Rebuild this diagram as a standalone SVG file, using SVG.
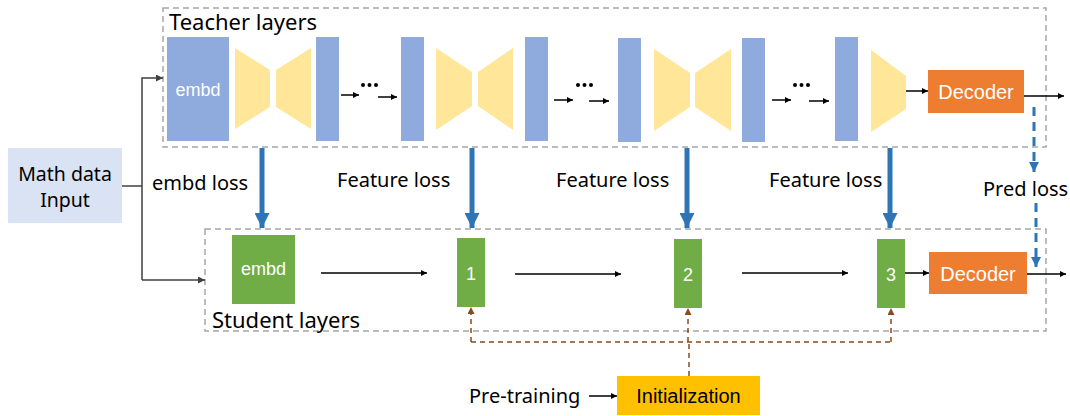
<svg xmlns="http://www.w3.org/2000/svg" width="1070" height="416" viewBox="0 0 1070 416">
<defs>
<style>
.frame{fill:none;stroke:#a6a6a6;stroke-width:1.5;stroke-dasharray:6 4}
.bar{fill:#8faadc}
.hg{fill:#ffe699}
.dec{fill:#ed7d31}
.grn{fill:#70ad47}
.lbl{font-family:"Noto Sans","Open Sans",sans-serif;fill:#000}
.wt{font-family:"Liberation Sans",Arial,sans-serif;fill:#fff;text-anchor:middle}
.bk{font-family:"Liberation Sans",Arial,sans-serif;fill:#000;text-anchor:middle}
.ar{fill:none;stroke:#000;stroke-width:1.5}
.gl{fill:none;stroke:#404040;stroke-width:1.5}
.loss{fill:none;stroke:#2e75b6;stroke-width:5}
.pl{fill:none;stroke:#2e75b6;stroke-width:3;stroke-dasharray:9 6}
.br{fill:none;stroke:#8b4a1c;stroke-width:1.5;stroke-dasharray:5 4}
</style>
<marker id="ah" viewBox="0 0 10 10" refX="10" refY="5" markerWidth="6" markerHeight="6" orient="auto" markerUnits="userSpaceOnUse"><path d="M0,0 L10,5 L0,10 z" fill="#000"/></marker>
<marker id="ahg" viewBox="0 0 10 10" refX="10" refY="5" markerWidth="7" markerHeight="7" orient="auto" markerUnits="userSpaceOnUse"><path d="M0,0 L10,5 L0,10 z" fill="#404040"/></marker>
<marker id="ahb" viewBox="0 0 10 10" refX="10" refY="5" markerWidth="7" markerHeight="7" orient="auto" markerUnits="userSpaceOnUse"><path d="M0,0 L10,5 L0,10 z" fill="#8b4a1c"/></marker>
<marker id="ahl" viewBox="0 0 10 10" refX="10" refY="5" markerWidth="15" markerHeight="15" orient="auto" markerUnits="userSpaceOnUse"><path d="M0,0 L10,5 L0,10 z" fill="#2e75b6"/></marker>
<marker id="ahp" viewBox="0 0 10 10" refX="10" refY="5" markerWidth="10" markerHeight="10" orient="auto" markerUnits="userSpaceOnUse"><path d="M0,0 L10,5 L0,10 z" fill="#2e75b6"/></marker>
</defs>
<rect width="1070" height="416" fill="#fff"/>

<g id="teacher-frame">
<rect class="frame" x="163" y="8" width="883" height="139"/>
<text class="lbl" x="169" y="30" font-size="22">Teacher layers</text>
</g>
<g id="student-frame">
<rect class="frame" x="205" y="229" width="841" height="102"/>
<text class="lbl" x="212" y="328" font-size="22">Student layers</text>
</g>

<g id="math-input">
<rect x="8" y="148" width="114" height="75" fill="#dae3f3"/>
<text class="lbl" x="65" y="181" font-size="19.5" text-anchor="middle">Math data</text>
<text class="lbl" x="65" y="207" font-size="19.5" text-anchor="middle">Input</text>
</g>

<g id="teacher-embd">
<rect class="bar" x="167" y="37" width="62" height="104"/>
<text class="wt" x="198" y="96" font-size="18">embd</text>
</g>
<g id="teacher-block1">
<polygon class="hg" points="235,48 270,70 270,107 235,129"/>
<polygon class="hg" points="276,70 311,48 311,129 276,107"/>
<rect class="bar" x="316" y="37" width="23" height="104"/>
</g>
<g id="teacher-block2">
<rect class="bar" x="401" y="37" width="23" height="104"/>
<polygon class="hg" points="436,48 472,72 472,106 436,130"/>
<polygon class="hg" points="478,72 513,48 513,130 478,106"/>
<rect class="bar" x="525" y="37" width="23" height="104"/>
</g>
<g id="teacher-block3">
<rect class="bar" x="618" y="38" width="23" height="104"/>
<polygon class="hg" points="654,49 690,73 690,107 654,131"/>
<polygon class="hg" points="695,73 731,49 731,131 695,107"/>
<rect class="bar" x="742" y="38" width="23" height="104"/>
</g>
<g id="teacher-block4">
<rect class="bar" x="835" y="37" width="23" height="104"/>
<polygon class="hg" points="871,50 906,76 906,109 871,132"/>
</g>
<g id="teacher-decoder">
<rect class="dec" x="928" y="70" width="96" height="43"/>
<text class="wt" x="976" y="99" font-size="20">Decoder</text>
</g>

<g id="dots" fill="#000">
<circle cx="363" cy="85" r="2"/><circle cx="369.5" cy="85" r="2"/><circle cx="376" cy="85" r="2"/>
<circle cx="578" cy="85" r="2"/><circle cx="584.5" cy="85" r="2"/><circle cx="591" cy="85" r="2"/>
<circle cx="795" cy="85" r="2"/><circle cx="801.5" cy="85" r="2"/><circle cx="808" cy="85" r="2"/>
</g>

<g id="student-embd">
<rect class="grn" x="232" y="235" width="63" height="69"/>
<text class="wt" x="263.5" y="275" font-size="18">embd</text>
</g>
<g id="student-1">
<rect class="grn" x="457" y="238" width="28" height="69"/>
<text class="wt" x="471" y="280" font-size="18">1</text>
</g>
<g id="student-2">
<rect class="grn" x="674" y="239" width="28" height="69"/>
<text class="wt" x="688" y="281" font-size="18">2</text>
</g>
<g id="student-3">
<rect class="grn" x="877" y="239" width="28" height="69"/>
<text class="wt" x="891" y="281" font-size="18">3</text>
</g>
<g id="student-decoder">
<rect class="dec" x="929" y="252" width="98" height="42"/>
<text class="wt" x="978" y="281" font-size="20">Decoder</text>
</g>

<g id="initialization">
<rect x="617" y="376" width="143" height="39" fill="#ffc000"/>
<text class="bk" x="688.5" y="403" font-size="20">Initialization</text>
</g>

<g id="labels">
<text class="lbl" x="152" y="190" font-size="20">embd loss</text>
<text class="lbl" x="337" y="187" font-size="20">Feature loss</text>
<text class="lbl" x="556" y="187" font-size="20">Feature loss</text>
<text class="lbl" x="769" y="187" font-size="20">Feature loss</text>
<text class="lbl" x="983" y="196" font-size="20">Pred loss</text>
<text class="lbl" x="469" y="403" font-size="20">Pre-training</text>
</g>

<g id="connectors">
<polyline class="gl" points="122,186 142,186"/>
<polyline class="gl" points="142,280 142,78 163,78" marker-end="url(#ahg)"/>
<polyline class="gl" points="142,280 205,280" marker-end="url(#ahg)"/>

<line class="ar" x1="341" y1="95" x2="359" y2="95" marker-end="url(#ah)"/>
<line class="ar" x1="378" y1="97" x2="397" y2="97" marker-end="url(#ah)"/>
<line class="ar" x1="554" y1="100" x2="573" y2="100" marker-end="url(#ah)"/>
<line class="ar" x1="589" y1="101" x2="609" y2="101" marker-end="url(#ah)"/>
<line class="ar" x1="772" y1="100" x2="791" y2="100" marker-end="url(#ah)"/>
<line class="ar" x1="809" y1="101" x2="829" y2="101" marker-end="url(#ah)"/>
<line class="ar" x1="906" y1="91" x2="928" y2="91" marker-end="url(#ah)"/>
<line class="ar" x1="1024" y1="96" x2="1064" y2="96" marker-end="url(#ah)"/>

<line class="ar" x1="321" y1="273" x2="427" y2="273" marker-end="url(#ah)"/>
<line class="ar" x1="515" y1="274" x2="621" y2="274" marker-end="url(#ah)"/>
<line class="ar" x1="742" y1="273" x2="848" y2="273" marker-end="url(#ah)"/>
<line class="ar" x1="905" y1="273" x2="929" y2="273" marker-end="url(#ah)"/>
<line class="ar" x1="1027" y1="274" x2="1066" y2="274" marker-end="url(#ah)"/>
<line class="ar" x1="589" y1="396" x2="617" y2="396" marker-end="url(#ah)"/>

<line class="loss" x1="262" y1="148" x2="262" y2="228" marker-end="url(#ahl)"/>
<line class="loss" x1="472" y1="148" x2="472" y2="228" marker-end="url(#ahl)"/>
<line class="loss" x1="687" y1="148" x2="687" y2="228" marker-end="url(#ahl)"/>
<line class="loss" x1="890" y1="148" x2="890" y2="228" marker-end="url(#ahl)"/>

<line class="pl" x1="1034" y1="107" x2="1034" y2="172" marker-end="url(#ahp)"/>
<line class="pl" x1="1036" y1="203" x2="1036" y2="267" marker-end="url(#ahp)"/>

<polyline class="br" points="471,342 891,342"/>
<line class="br" x1="689" y1="376" x2="689" y2="342"/>
<line class="br" x1="471" y1="342" x2="471" y2="307" marker-end="url(#ahb)"/>
<line class="br" x1="688" y1="342" x2="688" y2="308" marker-end="url(#ahb)"/>
<line class="br" x1="891" y1="342" x2="891" y2="308" marker-end="url(#ahb)"/>
</g>
</svg>
